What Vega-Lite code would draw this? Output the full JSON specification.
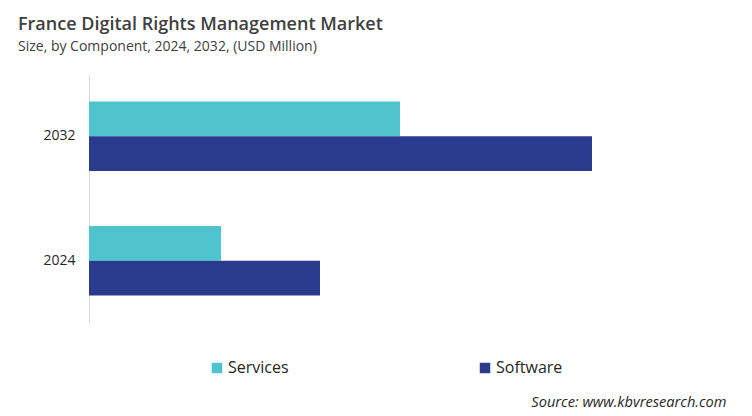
{
  "$schema": "https://vega.github.io/schema/vega-lite/v6.json",
  "autosize": {"type": "none"},
  "width": 620,
  "height": 249,
  "padding": {"left": 89, "top": 74, "right": 43, "bottom": 93},
  "background": "white",
  "title": {
    "text": "France Digital Rights Management Market",
    "subtitle": "Size, by Component, 2024, 2032, (USD Million)",
    "anchor": "start",
    "frame": "group",
    "dx": -71,
    "offset": 20,
    "font": "Open Sans",
    "fontSize": 18,
    "fontWeight": 600,
    "color": "#404040",
    "subtitleFont": "Open Sans",
    "subtitleFontSize": 14,
    "subtitleColor": "#404040",
    "subtitlePadding": 6
  },
  "data": {
    "values": [
      {"year": "2032", "component": "Services", "value": 311},
      {"year": "2032", "component": "Software", "value": 503},
      {"year": "2024", "component": "Services", "value": 132},
      {"year": "2024", "component": "Software", "value": 231}
    ]
  },
  "mark": "bar",
  "encoding": {
    "y": {
      "field": "year",
      "type": "nominal",
      "sort": ["2032", "2024"],
      "scale": {"paddingInner": 0.44, "paddingOuter": 0.22},
      "axis": {
        "title": null,
        "ticks": false,
        "domainColor": "#d9d9d9",
        "labelFont": "Open Sans",
        "labelFontSize": 14,
        "labelColor": "#262626",
        "labelPadding": 14
      }
    },
    "yOffset": {
      "field": "component",
      "type": "nominal",
      "sort": ["Services", "Software"]
    },
    "x": {
      "field": "value",
      "type": "quantitative",
      "scale": {"domain": [0, 620], "nice": false},
      "axis": {
        "labels": false,
        "ticks": false,
        "domain": false,
        "grid": false,
        "title": "Source: www.kbvresearch.com",
        "titleFont": "Open Sans",
        "titleFontSize": 14.6,
        "titleFontWeight": "normal",
        "titleFontStyle": "italic",
        "titleColor": "#262626",
        "titleAnchor": "end",
        "titleAlign": "right",
        "titleX": 637,
        "titlePadding": 71
      }
    },
    "color": {
      "field": "component",
      "type": "nominal",
      "scale": {"domain": ["Services", "Software"], "range": ["#4fc3ce", "#2a3a8c"]},
      "legend": {
        "title": null,
        "orient": "none",
        "direction": "horizontal",
        "legendX": 120,
        "legendY": 286,
        "symbolType": "square",
        "symbolSize": 110,
        "symbolStrokeWidth": 0,
        "labelFont": "Open Sans",
        "labelFontSize": 16,
        "labelColor": "#262626",
        "labelOffset": 3,
        "columnPadding": 188
      }
    }
  },
  "config": {
    "view": {"stroke": null}
  }
}
